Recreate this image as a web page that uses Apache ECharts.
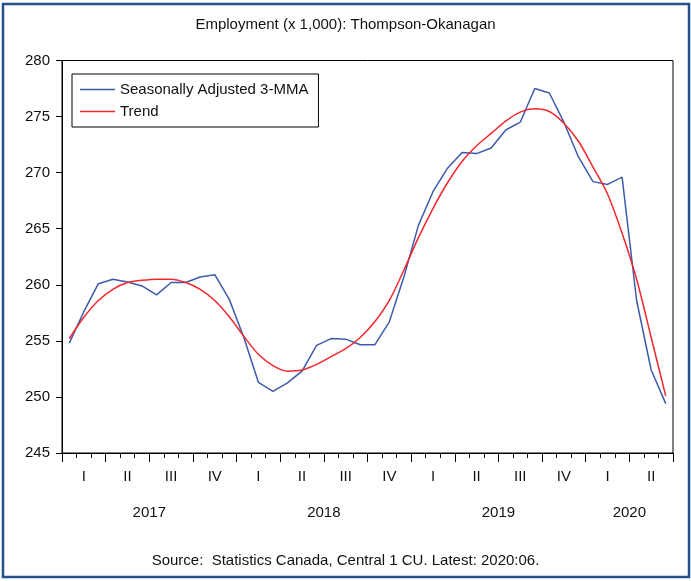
<!DOCTYPE html>
<html>
<head>
<meta charset="utf-8">
<script src="https://cdn.jsdelivr.net/npm/echarts@6/dist/echarts.min.js"></script>
<style>
  html, body { margin: 0; padding: 0; background: #fff; }
  #chart { width: 691px; height: 581px; }
</style>
</head>
<body>
<div id="chart"></div>
<script>
// monthly observations, Jan 2017 .. Jun 2020
var months = [
  '2017-01','2017-02','2017-03','2017-04','2017-05','2017-06','2017-07','2017-08','2017-09','2017-10','2017-11','2017-12',
  '2018-01','2018-02','2018-03','2018-04','2018-05','2018-06','2018-07','2018-08','2018-09','2018-10','2018-11','2018-12',
  '2019-01','2019-02','2019-03','2019-04','2019-05','2019-06','2019-07','2019-08','2019-09','2019-10','2019-11','2019-12',
  '2020-01','2020-02','2020-03','2020-04','2020-05','2020-06'
];
var quarters = ['2017Q1','2017Q2','2017Q3','2017Q4','2018Q1','2018Q2','2018Q3','2018Q4',
  '2019Q1','2019Q2','2019Q3','2019Q4','2020Q1','2020Q2'];
var quarterLabels = ['I','II','III','IV','I','II','III','IV','I','II','III','IV','I','II'];
var years = ['2017', '2018', '2019', '2020'];
var yearCentres = [2, 6, 10, 13]; // in quarters from the start of the axis

var seasAdj3mma = [
  254.8, 257.6, 260.1, 260.5, 260.25, 259.9, 259.1, 260.2, 260.2, 260.7, 260.9, 258.7,
  255.3, 251.3, 250.5, 251.25, 252.3, 254.6, 255.2, 255.15, 254.65, 254.65, 256.7, 260.7,
  265.3, 268.3, 270.4, 271.8, 271.7, 272.2, 273.8, 274.5, 277.5, 277.1, 274.5, 271.4,
  269.2, 268.95, 269.6, 258.6, 252.4, 249.4
];
var trend = [
  255.2, 257.1, 258.6, 259.6, 260.2, 260.4, 260.5, 260.5, 260.2, 259.6, 258.6, 257.15,
  255.4, 253.8, 252.8, 252.3, 252.4, 252.9, 253.6, 254.3, 255.3, 256.7, 258.6, 261.3,
  264.2, 266.8, 269.1, 271.0, 272.4, 273.5, 274.6, 275.4, 275.7, 275.45, 274.4, 272.8,
  270.5, 268.1, 264.6, 260.5, 255.3, 250.1
];

var FONT = "'Liberation Sans', Arial, sans-serif";
var TEXT = '#111';

var myChart = echarts.init(document.getElementById('chart'));

var option = {
  backgroundColor: '#fff',
  animation: false,
  textStyle: { fontFamily: FONT, color: TEXT },
  title: [
    {
      text: 'Employment (x 1,000): Thompson-Okanagan',
      left: 'center', top: 12,
      textStyle: { fontFamily: FONT, fontSize: 15, fontWeight: 'normal', color: TEXT }
    },
    {
      text: 'Source:  Statistics Canada, Central 1 CU. Latest: 2020:06.',
      left: 'center', top: 548,
      textStyle: { fontFamily: FONT, fontSize: 15, fontWeight: 'normal', color: TEXT }
    }
  ],
  graphic: [{
    type: 'rect',
    shape: { x: 3, y: 4, width: 686, height: 573 },
    style: { fill: 'none', stroke: '#24508c', lineWidth: 2.5 },
    silent: true
  }],
  legend: {
    orient: 'vertical',
    left: 72, top: 74,
    padding: [8, 10, 8, 8],
    itemGap: 7,
    itemWidth: 35,
    itemHeight: 1.5,
    icon: 'rect',
    borderColor: '#000',
    borderWidth: 1,
    borderRadius: 0,
    backgroundColor: '#fff',
    textStyle: { fontFamily: FONT, fontSize: 15, color: TEXT, lineHeight: 15 },
    data: ['Seasonally Adjusted 3-MMA', 'Trend']
  },
  grid: {
    left: 62, right: 18, top: 60.5, bottom: 128,
    show: true, borderColor: '#000', borderWidth: 1,
    containLabel: false
  },
  xAxis: [
    {
      // monthly axis that carries the data, minor ticks
      type: 'category',
      data: months,
      boundaryGap: true,
      position: 'bottom',
      axisLine: { show: true, onZero: false, lineStyle: { color: '#000', width: 1 } },
      axisTick: { show: true, interval: 0, length: 5, lineStyle: { color: '#000', width: 1 } },
      axisLabel: { show: false },
      splitLine: { show: false }
    },
    {
      // quarter labels and major ticks
      type: 'category',
      data: quarters,
      boundaryGap: true,
      position: 'bottom',
      axisLine: { show: false, onZero: false },
      axisTick: { show: true, interval: 0, length: 9, lineStyle: { color: '#000', width: 1 } },
      axisLabel: {
        show: true, interval: 0, margin: 16,
        fontFamily: FONT, fontSize: 15, color: TEXT,
        formatter: function (v, i) { return quarterLabels[i]; }
      },
      splitLine: { show: false }
    },
    {
      // year labels, centred under their quarters
      type: 'value',
      min: 0, max: quarters.length,
      position: 'bottom',
      axisLine: { show: false, onZero: false },
      axisTick: { show: false },
      axisLabel: {
        show: true, margin: 52,
        customValues: yearCentres,
        fontFamily: FONT, fontSize: 15, color: TEXT,
        formatter: function (v) { return years[yearCentres.indexOf(v)]; }
      },
      splitLine: { show: false }
    }
  ],
  yAxis: {
    type: 'value',
    min: 245, max: 280, interval: 5,
    axisLine: { show: true, lineStyle: { color: '#000' } },
    axisTick: { show: true, length: 6, lineStyle: { color: '#000' } },
    axisLabel: { margin: 12, fontFamily: FONT, fontSize: 15, color: TEXT },
    splitLine: { show: false }
  },
  series: [
    {
      name: 'Seasonally Adjusted 3-MMA',
      type: 'line',
      xAxisIndex: 0,
      data: seasAdj3mma,
      symbol: 'none',
      lineStyle: { color: '#3d5bab', width: 1.5 },
      itemStyle: { color: '#3d5bab' }
    },
    {
      name: 'Trend',
      type: 'line',
      xAxisIndex: 0,
      data: trend,
      symbol: 'none',
      smooth: 0.3,
      lineStyle: { color: '#f0282d', width: 1.5 },
      itemStyle: { color: '#f0282d' }
    }
  ]
};

myChart.setOption(option);
</script>
</body>
</html>
